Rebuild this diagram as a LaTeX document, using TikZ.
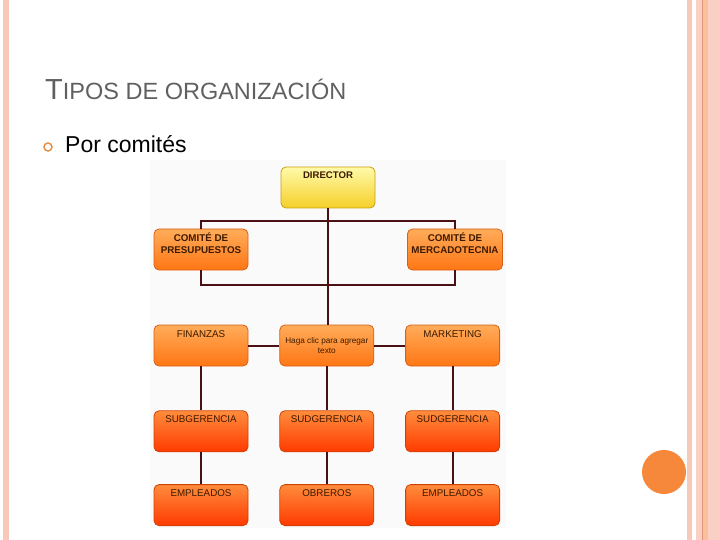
\documentclass[tikz,border=0pt]{standalone}
\usepackage{fontspec}
\setmainfont{Liberation Sans}
\usetikzlibrary{positioning}

\definecolor{stripe}{RGB}{248,200,184}
\definecolor{stripedark}{RGB}{226,150,120}
\definecolor{titlegray}{RGB}{96,96,96}
\definecolor{bulletorange}{RGB}{226,144,74}
\definecolor{decoorange}{RGB}{245,136,58}
\definecolor{wire}{RGB}{75,16,20}
\definecolor{yelltop}{RGB}{255,250,170}
\definecolor{yellbot}{RGB}{246,208,40}
\definecolor{yelledge}{RGB}{200,160,20}
\definecolor{orgtop}{RGB}{255,172,90}
\definecolor{orgbot}{RGB}{255,118,20}
\definecolor{orgedge}{RGB}{214,96,20}
\definecolor{redtop}{RGB}{255,140,60}
\definecolor{redbot}{RGB}{255,58,0}
\definecolor{rededge}{RGB}{208,64,0}
\definecolor{boxtext}{RGB}{60,26,0}

\begin{document}
\begin{tikzpicture}[
    x=1pt, y=-1pt,
    node distance=44pt and 31pt,
    box/.style={rectangle, draw=orgedge, line width=0.8pt, rounded corners=5pt,
                align=center, minimum width=94pt, minimum height=41pt, inner sep=4pt,
                top color=orgtop, bottom color=orgbot, text=boxtext,
                font=\fontsize{9.8}{12}\selectfont},
    toptext/.style={text height=8pt, text depth=25pt},
    twoline/.style={text height=21pt, text depth=12pt,
                    font=\fontsize{9.8}{13}\selectfont\bfseries},
    dirbox/.style={box, draw=yelledge, top color=yelltop, bottom color=yellbot,
                   toptext, font=\fontsize{9.6}{12}\selectfont\bfseries},
    lowbox/.style={box, draw=rededge, top color=redtop, bottom color=redbot, toptext},
    conn/.style={draw=wire, line width=2pt}
]
\useasboundingbox (0,0) rectangle (720,540);

% slide frame
\fill[stripe] (3,0) rectangle (9,540);
\fill[stripe] (687,0) rectangle (692,540);
\fill[stripe!85] (696,0) rectangle (720,540);
\fill[stripe!70!orgtop] (702,0) rectangle (708,540);
\draw[stripedark, line width=1pt] (702,0) -- (702,540);
\fill[decoorange] (664,472) circle (22);
\fill[black!2] (150,160) rectangle (506,528);

% heading
\node[anchor=base west, text=titlegray, inner sep=0] (title) at (45,100)
    {\fontsize{29}{30}\selectfont T\fontsize{23.5}{30}\selectfont IPOS DE ORGANIZACIÓN};
\node[circle, draw=bulletorange, line width=1.5pt, minimum size=8pt, inner sep=0] (dot) at (48,147) {};
\node[anchor=base west, inner sep=0, font=\fontsize{23}{24}\selectfont] (item) at (65,153) {Por comités};

% chart
\node[dirbox] (dir) at (328,187.5) {DIRECTOR};
\node[box, twoline] (pres) at (201,249.5) {COMITÉ DE\\PRESUPUESTOS};
\node[box, twoline] (merc) at (455,249.5) {COMITÉ DE\\MERCADOTECNIA};

\node[box, toptext] (fin) at (201,345.5) {FINANZAS};
\node[box, right=of fin, font=\fontsize{8.2}{9.5}\selectfont] (haga) {Haga clic para agregar\\texto};
\node[box, toptext, right=of haga] (mkt) {MARKETING};

\node[lowbox, below=of fin]  (subA) {SUBGERENCIA};
\node[lowbox, below=of haga] (subB) {SUDGERENCIA};
\node[lowbox, below=of mkt]  (subC) {SUDGERENCIA};

\node[lowbox, below=32pt of subA] (empA) {EMPLEADOS};
\node[lowbox, below=32pt of subB] (obr)  {OBREROS};
\node[lowbox, below=32pt of subC] (empC) {EMPLEADOS};

\draw[conn] (dir.south) -- (dir.south |- haga.north);
\draw[conn] (pres.north) -- ++(0,-8) -| (merc.north);
\draw[conn] (pres.south) -- ++(0,15) -| (merc.south);

\draw[conn] (fin) -- (haga);
\draw[conn] (haga) -- (mkt);

\draw[conn] (fin) -- (subA);
\draw[conn] (haga) -- (subB);
\draw[conn] (mkt) -- (subC);
\draw[conn] (subA) -- (empA);
\draw[conn] (subB) -- (obr);
\draw[conn] (subC) -- (empC);
\end{tikzpicture}
\end{document}
